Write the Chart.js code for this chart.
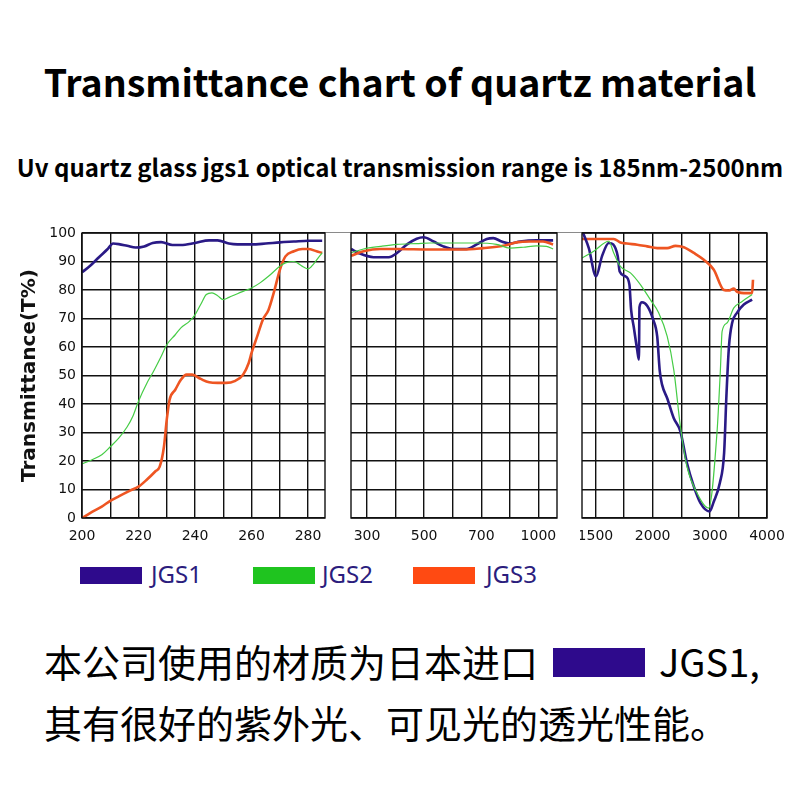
<!DOCTYPE html>
<html lang="zh">
<head>
  <meta charset="UTF-8" />
  <title>Transmittance chart of quartz material</title>
  <style>
    body { margin: 0; background: #fff; width: 800px; height: 800px; position: relative; overflow: hidden; font-family: "Open Sans", sans-serif; }
    .abs { position: absolute; }
    #title { left: 0; width: 800px; top: 58px; text-align: center; font-family: "Noto Sans CJK SC", sans-serif; font-weight: 700; font-size: 37.5px; line-height: 46px; color: #000; white-space: nowrap; }
    #subtitle { left: 0; width: 800px; top: 152px; text-align: center; font-family: "Noto Sans CJK SC", sans-serif; font-weight: 700; font-size: 24px; line-height: 30px; color: #000; white-space: nowrap; }
    #topLine { left: 82px; top: 232px; width: 685px; height: 1px; background: #8a8a8a; }
    canvas { position: absolute; }
    .legBox { position: absolute; top: 567px; width: 62px; height: 17px; }
    .legTxt { position: absolute; top: 558px; font-family: "Noto Sans", sans-serif; font-size: 24px; line-height: 32px; color: #2b1d7d; }
    .cn { position: absolute; left: 44px; font-family: "Noto Sans CJK SC", sans-serif; font-size: 38px; line-height: 50px; color: #000; white-space: nowrap; }
    #cnBox { position: absolute; left: 553px; top: 648px; width: 92px; height: 29px; background: #2e0a8c; }
  </style>
  <script src="https://cdn.jsdelivr.net/npm/chart.js"></script>
</head>
<body>
  <div id="title" class="abs">Transmittance chart of quartz material</div>
  <div id="subtitle" class="abs">Uv quartz glass jgs1 optical transmission range is 185nm-2500nm</div>
  <div id="topLine" class="abs"></div>

  <canvas id="c1" width="327" height="325" style="left:0;top:223px;width:327px;height:325px"></canvas>
  <canvas id="c2" width="210" height="325" style="left:349px;top:223px;width:210px;height:325px"></canvas>
  <canvas id="c3" width="210" height="325" style="left:580px;top:223px;width:210px;height:325px"></canvas>

  <div class="legBox" style="left:80px;background:#2e0a8c"></div><div class="legTxt" style="left:151px">JGS1</div>
  <div class="legBox" style="left:253px;background:#1fc41f"></div><div class="legTxt" style="left:322px">JGS2</div>
  <div class="legBox" style="left:413px;background:#ff4a12"></div><div class="legTxt" style="left:486px">JGS3</div>

  <div class="cn" style="top:636px">本公司使用的材质为日本进口</div>
  <div id="cnBox"></div>
  <div class="cn" style="top:636px;left:659px">JGS1,</div>
  <div class="cn" style="top:697px">其有很好的紫外光、可见光的透光性能。</div>

  <script>
    // --- data: wavelength (nm) / transmittance (%) ---
    // panel 1: 200-285 nm
    const p1Jgs1X = [200,203,206,209,211,213,216,219,222,225,228,232,235,240,245,248,252,255,260,265,270,275,280,285];
    const p1Jgs1Y = [86.2,88.6,91.5,94.3,96.3,96.1,95.5,94.9,95.3,96.5,96.8,95.8,95.8,96.5,97.4,97.4,96.3,96.0,96.0,96.3,96.7,97.0,97.3,97.3];
    const p1Jgs2X = [200,203,207,210,213,216,218,220,223,225,228,230,233,235,238,240,242,244,246,248,250,252,255,258,260,263,266,270,272,275,278,280,282,284,285];
    const p1Jgs2Y = [19,20.2,22.2,25,28,32,35.7,41,47.4,50.9,56.7,60.8,64.3,66.7,69,71.3,74.9,78.4,79,78,76.6,77.4,78.7,79.9,80.7,82.5,84.8,88.3,89.5,90,88.3,87.4,89.2,91.8,93];
    const p1Jgs3X = [200,203,207,210,213,217,220,223,226,227.5,229,230,231,233,235,237,239,242,245,248,251,254,257,259,260,262,264,266,268,270,272,275,278,280,283,285];
    const p1Jgs3Y = [0,1.8,4,6,7.6,9.6,11,13.5,16.4,18,25,34.5,41.5,45,48.5,50.3,50.3,48.8,47.6,47.4,47.4,48,50.3,54.4,57.9,63.7,69.6,73,79.5,87,91.8,93.6,94.4,94.4,93.6,93];

    // panel 2: 300-1000 nm
    const p2Jgs1X = [244,270,323,376,405,440,474,498,533,567,602,649,684,729,763,807,850,903,990,1077];
    const p2Jgs1Y = [94.4,93,91.5,91.5,93,96,98,98.5,97,95.3,94.4,94.4,96,97.9,98.2,97,96.3,97,97.4,97.4];
    const p2Jgs2X = [244,288,347,405,474,521,591,684,780,850,920,990,1042,1077];
    const p2Jgs2Y = [93,94.4,95.3,96,96.3,96.5,96.5,96.5,96,94.7,95,95.5,95.3,94.4];
    const p2Jgs3X = [244,288,347,405,521,637,710,816,885,955,1024,1077];
    const p2Jgs3Y = [92,93.6,94.4,94.4,94.2,94.2,94.7,95.5,96.7,97,97,96];

    // panel 3: 1500-4000 nm
    const p3Jgs1X = [1392,1442,1505,1557,1617,1655,1695,1712,1762,1797,1812,1835,1865,1880,1885,1907,1952,2010,2080,2125,2165,2255,2370,2485,2600,2720,2835,2995,3070,3175,3250,3290,3335,3390,3475,3595,3740];
    const p3Jgs1Y = [100,94.7,84.8,91.8,96.5,96,91.8,86.5,84.8,81.9,73,67,59,55.6,74,75.7,74.5,69.6,63.7,51.5,46.8,42,35,30.4,19.3,11.1,5.3,2.3,5.8,12.3,22.8,42.7,60.2,68.4,72,74.9,76.6];
    const p3Jgs2X = [1383,1485,1617,1660,1718,1806,1893,1980,2105,2255,2370,2485,2600,2775,2980,3125,3185,3215,3300,3420,3565,3740];
    const p3Jgs2Y = [91.2,93.6,97.1,93,88.3,86,81.9,76.6,72,63.7,52,32.2,18.1,8.8,3.5,29.8,52,65.5,68.4,73.7,76,78.4];
    const p3Jgs3X = [1383,1485,1660,1718,1775,1865,1952,2080,2255,2400,2545,2720,2895,3070,3245,3330,3420,3475,3650,3740,3755];
    const p3Jgs3Y = [97.9,97.9,97.9,96.7,96.3,95.9,95.3,94.7,94.7,95.5,95,93,90.6,87.1,80,79.8,80.5,79.4,78.9,79,83.6];

    // tick labels, one per vertical grid line
    const p1Ticks = ['200','','220','','240','','260','','280'];
    const p2Ticks = ['300','','500','','700','','1000'];
    const p3Ticks = ['1500','','2000','','3000','','4000'];
    const yTicks = [0,10,20,30,40,50,60,70,80,90,100];

    // wavelength -> grid position (the original axes are not evenly spaced)
    const p2Knots = [[300,0],[700,4],[1000,6]];
    const p3Knots = [[1500,0],[2000,2],[4000,6]];

    const COL1 = '#2a1a86', COL2 = '#45cc45', COL3 = '#ee5522';
    const tickFont = { family: 'DejaVu Sans', size: 14 };

    function toPos(nm, knots) {
      let i = 0;
      if (nm > knots[1][0]) i = 1;
      const [a, pa] = knots[i], [b, pb] = knots[i + 1];
      return pa + (nm - a) * (pb - pa) / (b - a);
    }

    function pts(xs, ys, knots) {
      return xs.map((x, i) => ({ x: knots ? toPos(x, knots) : x, y: ys[i] }));
    }

    function ds(data, color, width) {
      return { data, borderColor: color, borderWidth: width, pointRadius: 0, fill: false, cubicInterpolationMode: 'monotone' };
    }

    const frame = {
      id: 'frame',
      afterDatasetsDraw(chart) {
        const a = chart.chartArea, c = chart.ctx;
        c.save();
        c.strokeStyle = '#111';
        c.lineWidth = 1.4;
        c.strokeRect(a.left, a.top, a.right - a.left, a.bottom - a.top);
        c.restore();
      }
    };

    function makeChart(id, datasets, xMin, xMax, tickVals, tickLabels, showY, pad) {
      return new Chart(document.getElementById(id), {
        type: 'line',
        data: { datasets },
        plugins: [frame],
        options: {
          responsive: false,
          animation: false,
          events: [],
          layout: { padding: pad },
          plugins: { legend: { display: false }, tooltip: { enabled: false } },
          scales: {
            x: {
              type: 'linear', min: xMin, max: xMax,
              afterBuildTicks: s => { s.ticks = tickVals.map(v => ({ value: v })); },
              afterFit: s => { s.height = 30; s.paddingLeft = 0; s.paddingRight = 0; },
              grid: { color: '#111', lineWidth: 1.4, drawTicks: false },
              border: { display: false },
              ticks: {
                autoSkip: false, maxRotation: 0, padding: 10, color: '#111', font: tickFont,
                callback: (v, i) => tickLabels[i]
              }
            },
            y: {
              min: 0, max: 100,
              afterBuildTicks: s => { s.ticks = yTicks.map(v => ({ value: v })); },
              afterFit: s => { s.width = showY ? 82 : 0; s.paddingTop = 0; s.paddingBottom = 0; },
              grid: { color: '#111', lineWidth: 1.4, drawTicks: false },
              border: { display: false },
              ticks: { display: showY, padding: 6, color: '#111', font: tickFont },
              title: {
                display: showY, text: 'Transmittance(T%)', color: '#111',
                font: { family: 'DejaVu Sans', size: 20, weight: 'bold' },
                padding: { top: 18, bottom: 0 }
              }
            }
          }
        }
      });
    }

    makeChart('c1', [
      ds(pts(p1Jgs2X, p1Jgs2Y), COL2, 1.2),
      ds(pts(p1Jgs3X, p1Jgs3Y), COL3, 2.6),
      ds(pts(p1Jgs1X, p1Jgs1Y), COL1, 2.6)
    ], 200, 286, [200,210,220,230,240,250,260,270,280], p1Ticks, true, { top: 10, right: 2, left: 0, bottom: 0 });

    makeChart('c2', [
      ds(pts(p2Jgs2X, p2Jgs2Y, p2Knots), COL2, 1.2),
      ds(pts(p2Jgs3X, p2Jgs3Y, p2Knots), COL3, 2.6),
      ds(pts(p2Jgs1X, p2Jgs1Y, p2Knots), COL1, 2.6)
    ], -0.56, 6.65, [0,1,2,3,4,5,6], p2Ticks, false, { top: 10, right: 2, left: 2, bottom: 0 });

    makeChart('c3', [
      ds(pts(p3Jgs2X, p3Jgs2Y, p3Knots), COL2, 1.2),
      ds(pts(p3Jgs1X, p3Jgs1Y, p3Knots), COL1, 2.6),
      ds(pts(p3Jgs3X, p3Jgs3Y, p3Knots), COL3, 2.6)
    ], -0.47, 6, [0,1,2,3,4,5,6], p3Ticks, false, { top: 10, right: 23, left: 2, bottom: 0 });
  </script>
</body>
</html>
